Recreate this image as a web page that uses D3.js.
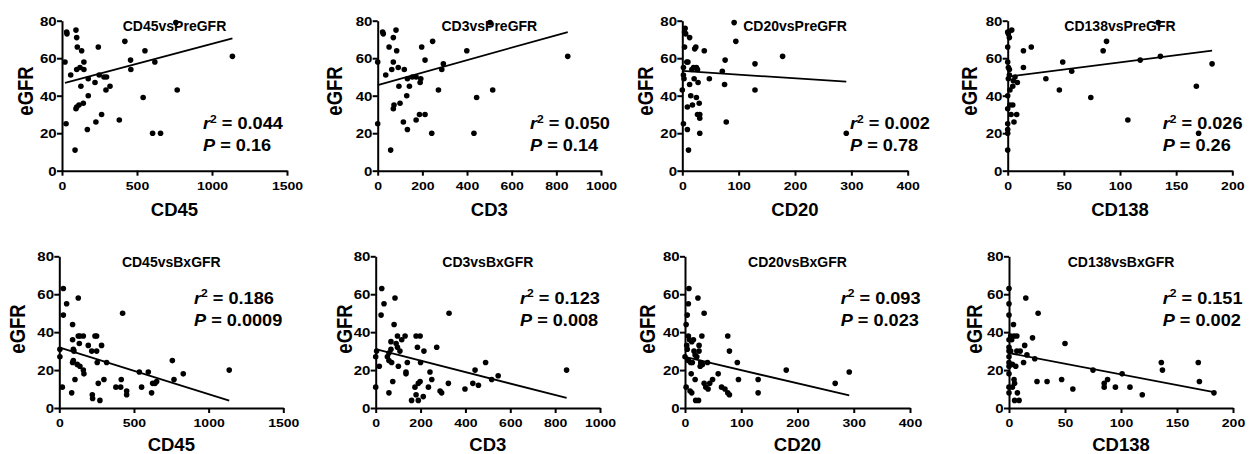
<!DOCTYPE html>
<html><head><meta charset="utf-8">
<script src="https://cdn.jsdelivr.net/npm/d3@7"></script>
<style>
body{margin:0;background:#fff}
svg{display:block}
text{font-family:"Liberation Sans",Arial,Helvetica,sans-serif;font-weight:bold;fill:#000}
</style>
</head><body>
<svg id="chart" width="1250" height="454"></svg>
<script>
// ---------- data ----------
const titles = ["CD45vsPreGFR","CD3vsPreGFR","CD20vsPreGFR","CD138vsPreGFR","CD45vsBxGFR","CD3vsBxGFR","CD20vsBxGFR","CD138vsBxGFR"];
const xLabels = ["CD45","CD3","CD20","CD138","CD45","CD3","CD20","CD138"];
const yLabel = "eGFR";
const xTicksCD45 = [0,500,1000,1500];
const xTicksCD3 = [0,200,400,600,800,1000];
const xTicksCD20 = [0,100,200,300,400];
const xTicksCD138 = [0,50,100,150,200];
const yTicks = [0,20,40,60,80];
const r2Labels = ["0.044","0.050","0.002","0.026","0.186","0.123","0.093","0.151"];
const pLabels = ["0.16","0.14","0.78","0.26","0.0009","0.008","0.023","0.002"];
const fitIntercepts = [46.4,45.7,53.2,50.1,31.9,31.0,26.9,29.0];
const fitSlopes = [0.0213,0.0332,-0.0197,0.0764,-0.0246,-0.0302,-0.0695,-0.1126];

const cd45Pre = [[20,58],[31,74],[33,73],[27,25],[58,51],[93,75],[98,71],[102,66],[131,64],[98,54],[120,55],[146,58],[146,54],[126,45],[98,34],[93,33],[113,35],[142,36],[87,11],[175,40],[169,22],[175,49],[220,47],[226,26],[242,66],[248,51],[264,30],[280,50],[297,50],[293,43],[320,45],[382,27],[419,69],[457,59],[459,54],[553,64],[541,39],[619,58],[604,20],[657,20],[768,43],[1136,61],[759,79]];
const cd3Pre = [[0,58],[0,25],[22,74],[25,73],[36,51],[51,66],[58,11],[70,71],[70,58],[63,54],[82,75],[85,64],[70,33],[73,35],[92,55],[95,45],[100,36],[115,26],[119,54],[130,40],[133,49],[133,22],[142,45],[155,50],[172,27],[172,50],[187,30],[190,47],[193,49],[197,66],[212,30],[212,59],[242,20],[246,69],[272,43],[287,54],[294,57],[399,64],[431,20],[443,39],[515,43],[851,61],[503,79]];
const cd20Pre = [[4,74],[5,76],[6,73],[4,66],[2,55],[2,51],[3,49],[0,43],[2,25],[8,58],[10,58],[9,34],[9,22],[11,11],[13,71],[13,46],[15,40],[17,54],[18,35],[20,55],[21,49],[22,65],[24,66],[25,39],[25,55],[27,54],[28,47],[27,30],[30,36],[31,28],[31,30],[31,20],[39,64],[48,49],[71,53],[75,46],[76,59],[78,26],[92,79],[95,69],[129,57],[129,43],[178,61],[291,20]];
const cd138Pre = [[0,74],[0.6,73],[1.5,71],[3.6,75],[0,66],[0,58],[0.6,55],[1.5,54],[0.6,49],[1.5,51],[0,40],[0,33],[0,25],[0,22],[0,20],[0,11],[2,35],[3,30],[4.5,35],[4.5,45],[5,48],[5.6,26],[6.5,50],[8,30],[8.6,47],[2,43],[14,64],[14,55],[21,66],[34,49],[46,43],[49,58],[57,53],[74,39],[85,64],[88,69],[107,27],[118,59],[136,61],[168,45],[170,20],[182,57],[134,79]];
const cd45Bx = [[4,31],[4,27],[20,11],[27,63],[27,49],[49,55],[83,8],[89,44],[89,36],[94,31],[98,30],[94,25],[89,24],[105,15],[127,58],[127,38],[138,38],[134,34],[120,23],[138,22],[161,38],[161,20],[165,18],[194,33],[217,30],[223,5],[221,7],[239,38],[250,38],[250,30],[254,24],[261,13],[272,4],[283,33],[299,15],[317,24],[379,11],[411,11],[415,15],[424,50],[451,9],[451,7],[536,19],[551,11],[596,19],[618,8],[625,13],[641,13],[652,14],[757,25],[768,15],[830,18],[1138,20]];
const cd3Bx = [[0,27],[0,11],[4,30],[16,22],[27,63],[24,49],[37,55],[59,8],[52,27],[59,29],[59,25],[68,35],[68,31],[71,24],[76,14],[82,44],[86,58],[91,34],[97,38],[97,32],[101,22],[108,30],[116,36],[131,38],[135,19],[135,18],[141,24],[160,4],[175,11],[180,7],[180,38],[198,38],[186,32],[190,13],[190,4],[198,14],[200,24],[212,6],[215,30],[235,11],[242,19],[250,15],[272,32],[287,9],[294,8],[324,13],[327,50],[398,10],[433,13],[443,20],[458,12],[490,24],[517,15],[546,17],[851,20]];
const cd20Bx = [[2,11],[0,27],[3,33],[2,44],[4,49],[6,55],[7,63],[6,38],[8,36],[4,31],[6,25],[9,9],[11,18],[12,8],[10,24],[13,24],[12,35],[15,36],[16,30],[18,28],[18,15],[19,4],[21,27],[23,58],[24,4],[25,33],[25,30],[27,22],[28,24],[30,38],[31,23],[34,13],[34,50],[37,11],[40,24],[41,10],[44,13],[49,15],[59,18],[65,11],[71,10],[76,38],[79,30],[76,8],[79,7],[93,24],[95,15],[130,15],[130,8],[180,20],[267,13],[292,19]];
const cd138Bx = [[0,63],[0,55],[0,49],[0,36],[0,32],[0,30],[0,27],[0,24],[0,22],[0,18],[0,8],[0,11],[1.5,38],[2.4,36],[1.5,30],[3,23],[4,44],[4.5,38],[5,13],[4.5,15],[5,4],[6,22],[7,38],[7,30],[7.5,8],[9,4],[10,30],[3,11],[13,24],[14,33],[15,58],[16,28],[21,37],[23,26],[25,14],[26,50],[34,14],[47,15],[50,34],[57,10],[75,20],[85,11],[85,13],[88,15],[95,11],[101,18],[108,11],[119,7],[136,24],[137,20],[169,24],[170,14],[183,8]];

const series = [cd45Pre, cd3Pre, cd20Pre, cd138Pre, cd45Bx, cd3Bx, cd20Bx, cd138Bx];
const xTickSets = [xTicksCD45, xTicksCD3, xTicksCD20, xTicksCD138, xTicksCD45, xTicksCD3, xTicksCD20, xTicksCD138];

// ---------- layout (positions only) ----------
const plotLeft = [62, 377.7, 682.3, 1007.7, 59.3, 375.7, 685, 1009];
const plotRight = [287, 601, 907.7, 1232.3, 283.3, 600, 910, 1233];
const rowTop = [20.7, 256.3];
const rowBottom = [170.7, 408];
const xTitleY = [216, 451];
const yTitleX = [33.3, 341.7, 653.3, 976.7, 25, 351.7, 655, 981.7];
const yTitleY = [91, 329];
const statX = [203, 530, 850, 1162.7, 194, 520, 840.7, 1162.7];
const statY1 = [129, 303.5];
const statY2 = [151, 325.5];

const svg = d3.select("#chart");
const TS = 1.2; // horizontal stretch of tick text
const SS = 1.1; // horizontal stretch of stats text

series.forEach((pts, i) => {
  const row = i < 4 ? 0 : 1;
  const ticks = xTickSets[i];
  const x = d3.scaleLinear().domain([0, d3.max(ticks)]).range([plotLeft[i], plotRight[i]]);
  const y = d3.scaleLinear().domain([0, 80]).range([rowBottom[row], rowTop[row]]);
  const g = svg.append("g");

  // axes
  const ya = g.append("g").attr("transform", `translate(${plotLeft[i]},0)`)
    .call(d3.axisLeft(y).tickValues(yTicks).tickSize(5).tickSizeOuter(0).tickPadding(0).tickFormat(d3.format("d")));
  const xa = g.append("g").attr("transform", `translate(0,${rowBottom[row]})`)
    .call(d3.axisBottom(x).tickValues(ticks).tickSize(5).tickSizeOuter(0).tickPadding(5).tickFormat(d3.format("d")));
  [ya, xa].forEach(a => {
    a.attr("font-family", null).attr("font-size", null);
    a.select(".domain").attr("stroke", "#000").attr("stroke-width", 2);
    a.selectAll(".tick line").attr("stroke", "#000").attr("stroke-width", 2);
  });
  ya.selectAll(".tick text").attr("x", null).attr("dy", null)
    .attr("font-size", 12.5)
    .attr("transform", `translate(-5.3,4.4) scale(${TS},1)`);
  xa.selectAll(".tick text").attr("y", null).attr("dy", null)
    .attr("font-size", 11.7)
    .attr("transform", `translate(0,18.8) scale(${TS},1)`);

  // regression line
  const xs = d3.extent(pts, d => d[0]);
  const fit = xs.map(v => [v, fitIntercepts[i] + fitSlopes[i] * v]);
  g.append("path").datum(fit)
    .attr("d", d3.line().x(d => x(d[0])).y(d => y(d[1])))
    .attr("stroke", "#000").attr("stroke-width", 1.8).attr("fill", "none");

  // points
  g.selectAll("circle").data(pts).join("circle")
    .attr("cx", d => x(d[0])).attr("cy", d => y(d[1])).attr("r", 2.8).attr("fill", "#000");

  // title
  g.append("text").attr("x", (plotLeft[i] + plotRight[i]) / 2).attr("y", rowTop[row] + 10.5)
    .attr("text-anchor", "middle").attr("font-size", 14).text(titles[i]);

  // x label
  g.append("text").attr("x", (plotLeft[i] + plotRight[i]) / 2).attr("y", xTitleY[row])
    .attr("text-anchor", "middle").attr("font-size", 18.5).text(xLabels[i]);

  // y label
  g.append("text").attr("transform", `translate(${yTitleX[i]},${yTitleY[row]}) scale(1.15,1) rotate(-90)`)
    .attr("text-anchor", "middle").attr("font-size", 18.5).text(yLabel);

  // stats
  const t1 = g.append("text").attr("transform", `translate(${statX[i]},${statY1[row]}) scale(${SS},1)`).attr("font-size", 16.5);
  t1.append("tspan").attr("font-style", "italic").text("r");
  t1.append("tspan").attr("font-size", 11).attr("dy", -6.5).text("2");
  t1.append("tspan").attr("dy", 6.5).text(" = " + r2Labels[i]);
  const t2 = g.append("text").attr("transform", `translate(${statX[i]},${statY2[row]}) scale(${SS},1)`).attr("font-size", 16.5);
  t2.append("tspan").attr("font-style", "italic").text("P");
  t2.append("tspan").text(" = " + pLabels[i]);
});
</script>
</body></html>
